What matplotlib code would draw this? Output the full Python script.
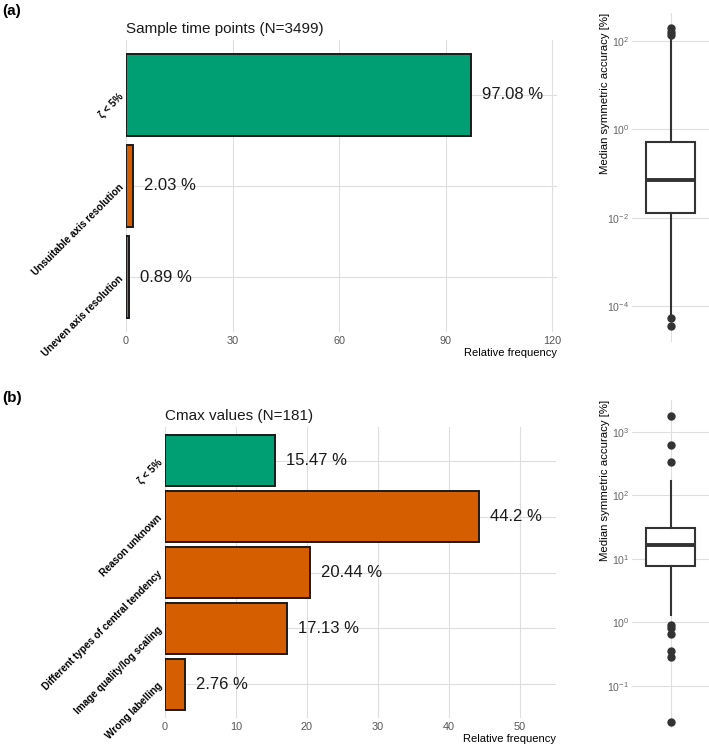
import numpy as np
import matplotlib
matplotlib.use('Agg')
import matplotlib.pyplot as plt

plt.rcParams['font.family'] = ['Liberation Sans', 'DejaVu Sans']
plt.rcParams['axes.unicode_minus'] = False
plt.rcParams['mathtext.fontset'] = 'custom'
plt.rcParams['mathtext.rm'] = 'Liberation Sans'
plt.rcParams['mathtext.it'] = 'Liberation Sans'

# data
a_categories = ['ζ < 5%', 'Unsuitable axis resolution', 'Uneven axis resolution']
a_values = [97.08, 2.03, 0.89]
b_categories = ['ζ < 5%', 'Reason unknown', 'Different types of central tendency',
                'Image quality/log scaling', 'Wrong labelling']
b_values = [15.47, 44.2, 20.44, 17.13, 2.76]

# boxplot summaries (median symmetric accuracy, %)
a_box = dict(med=0.073, q1=0.013, q3=0.507, whislo=5.6e-5, whishi=125,
             fliers=[195, 163, 137, 5.3e-5, 3.4e-5])
b_box = dict(med=16.4, q1=7.85, q3=31.0, whislo=1.32, whishi=168,
             fliers=[1780, 616, 340, 0.91, 0.83, 0.66, 0.35, 0.29, 0.027])

green = '#009E73'
orange = '#D55E00'
grid = '#DEDEDE'

W, H = 709, 748
fig = plt.figure(figsize=(W / 100, H / 100), dpi=100)


def rect(l, r, t, b):
    return [l / W, 1 - b / H, (r - l) / W, (b - t) / H]


def bar_panel(ax, cats, vals, xmax, ticks, title):
    n = len(cats)
    ypos = np.arange(n)[::-1]
    colors = [green] + [orange] * (n - 1)
    ax.barh(ypos, vals, height=0.9, color=colors, edgecolor='#1a1a1a', linewidth=1.4, zorder=3)
    for y, v in zip(ypos, vals):
        ax.annotate(f'{v} %', (v, y), xytext=(8, 0), textcoords='offset points',
                    ha='left', va='center', fontsize=12, color='#1a1a1a', zorder=4)
    ax.set_xlim(0, xmax)
    ax.set_ylim(-0.6, n - 0.4)
    ax.set_xticks(ticks)
    ax.set_yticks(ypos)
    ax.set_yticklabels(cats, rotation=45, ha='right', va='center', rotation_mode='anchor',
                       fontsize=7.2, fontweight='bold')
    ax.tick_params(axis='x', length=0, labelsize=7.8, labelcolor='#555555', pad=3)
    ax.tick_params(axis='y', length=0, pad=3)
    ax.grid(True, color=grid, linewidth=0.8, zorder=0)
    for s in ax.spines.values():
        s.set_visible(False)
    ax.set_xlabel('Relative frequency', loc='right', fontsize=8, labelpad=1)
    ax.set_title(title, loc='left', fontsize=11, pad=5, color='#1a1a1a')


def box_panel(ax, stats, ylim, ticks):
    ax.bxp([stats], positions=[1], widths=0.75, showcaps=False, patch_artist=True,
           boxprops=dict(facecolor='white', edgecolor='#333333', linewidth=1.5),
           whiskerprops=dict(color='#333333', linewidth=1.5),
           medianprops=dict(color='#333333', linewidth=2.8),
           flierprops=dict(marker='o', markerfacecolor='#333333', markeredgecolor='#333333',
                           markersize=5), zorder=3)
    ax.set_yscale('log')
    ax.set_ylim(*ylim)
    ax.set_xlim(0.4, 1.6)
    ax.set_xticks([1])
    ax.set_xticklabels([])
    ax.set_yticks(ticks)
    ax.set_yticklabels([f'$10^{{{int(np.log10(t))}}}$' for t in ticks])
    ax.minorticks_off()
    ax.tick_params(length=0, labelsize=7.6, labelcolor='#666666', pad=2)
    ax.grid(True, color=grid, linewidth=0.8, zorder=0)
    for s in ax.spines.values():
        s.set_visible(False)
    ax.set_ylabel('Median symmetric accuracy [%]', loc='top', fontsize=8.2)
    ax.yaxis.set_label_coords(-0.29, 1.0)


ax1 = fig.add_axes(rect(126, 557, 40, 332))
bar_panel(ax1, a_categories, a_values, 121.4, [0, 30, 60, 90, 120], 'Sample time points (N=3499)')

ax2 = fig.add_axes(rect(632, 709, 13, 342))
box_panel(ax2, a_box, (10 ** -4.82, 10 ** 2.64), [1e-4, 1e-2, 1e0, 1e2])

ax3 = fig.add_axes(rect(165, 556, 427, 718))
bar_panel(ax3, b_categories, b_values, 55.1, [0, 10, 20, 30, 40, 50], 'Cmax values (N=181)')

ax4 = fig.add_axes(rect(632, 709, 400, 728))
box_panel(ax4, b_box, (10 ** -1.66, 10 ** 3.5), [1e-1, 1e0, 1e1, 1e2, 1e3])

fig.text(2 / W, 1 - 11 / H, '(a)', fontsize=11, fontweight='bold', va='center', ha='left')
fig.text(2 / W, 1 - 398 / H, '(b)', fontsize=11, fontweight='bold', va='center', ha='left')

fig.savefig('out.png', dpi=100, facecolor='white')
